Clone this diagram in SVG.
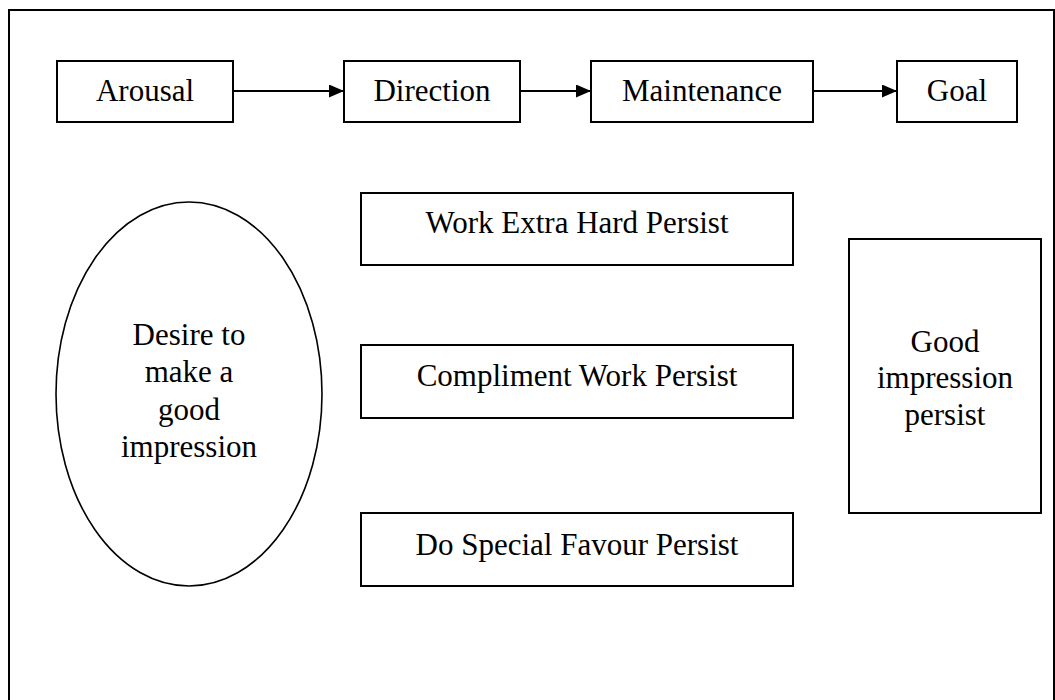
<svg xmlns="http://www.w3.org/2000/svg" width="1055" height="700" viewBox="0 0 1055 700">
  <style>
    .box { fill: #ffffff; stroke: #000000; stroke-width: 2; }
    .oval { fill: #ffffff; stroke: #000000; stroke-width: 1.6; }
    .frame { fill: none; stroke: #000000; stroke-width: 2; }
    .lbl { font-family: "Liberation Serif", "Times New Roman", serif; font-size: 31px; fill: #000000; text-anchor: middle; }
    .link { stroke: #000000; stroke-width: 1.8; fill: none; marker-end: url(#head); }
  </style>
  <defs>
    <marker id="head" viewBox="0 0 15 13" refX="15" refY="6.5" markerWidth="15" markerHeight="13" markerUnits="userSpaceOnUse" orient="auto">
      <path d="M0,0 L15,6.5 L0,13 Z" fill="#000000"/>
    </marker>
  </defs>

  <rect width="1055" height="700" fill="#ffffff"/>

  <!-- page border (runs off the bottom edge) -->
  <path class="frame" d="M9,700 L9,10 L1054,10 L1054,700"/>

  <!-- top row: process stages -->
  <g id="arousal">
    <rect class="box" x="57" y="61" width="176" height="61"/>
    <text class="lbl" x="145" y="101">Arousal</text>
  </g>
  <g id="direction">
    <rect class="box" x="344" y="61" width="176" height="61"/>
    <text class="lbl" x="432" y="101">Direction</text>
  </g>
  <g id="maintenance">
    <rect class="box" x="591" y="61" width="222" height="61"/>
    <text class="lbl" x="702" y="101">Maintenance</text>
  </g>
  <g id="goal">
    <rect class="box" x="897" y="61" width="120" height="61"/>
    <text class="lbl" x="957" y="101">Goal</text>
  </g>

  <!-- left: the driving desire -->
  <g id="desire">
    <ellipse class="oval" cx="189" cy="394" rx="133" ry="192"/>
    <text class="lbl" x="189" y="345">Desire to</text>
    <text class="lbl" x="189" y="382">make a</text>
    <text class="lbl" x="189" y="420">good</text>
    <text class="lbl" x="189" y="457">impression</text>
  </g>

  <!-- middle: behaviours -->
  <g id="work-extra-hard">
    <rect class="box" x="361" y="193" width="432" height="72"/>
    <text class="lbl" x="577" y="233">Work Extra Hard Persist</text>
  </g>
  <g id="compliment-work">
    <rect class="box" x="361" y="345" width="432" height="73"/>
    <text class="lbl" x="577" y="386">Compliment Work Persist</text>
  </g>
  <g id="special-favour">
    <rect class="box" x="361" y="513" width="432" height="73"/>
    <text class="lbl" x="577" y="555">Do Special Favour Persist</text>
  </g>

  <!-- right: outcome -->
  <g id="good-impression">
    <rect class="box" x="849" y="239" width="192" height="274"/>
    <text class="lbl" x="945" y="352">Good</text>
    <text class="lbl" x="945" y="388">impression</text>
    <text class="lbl" x="945" y="425">persist</text>
  </g>

  <!-- connectors between stages -->
  <g id="connectors">
    <line class="link" x1="233" y1="91" x2="344" y2="91"/>
    <line class="link" x1="520" y1="91" x2="591" y2="91"/>
    <line class="link" x1="813" y1="91" x2="897" y2="91"/>
  </g>
</svg>
